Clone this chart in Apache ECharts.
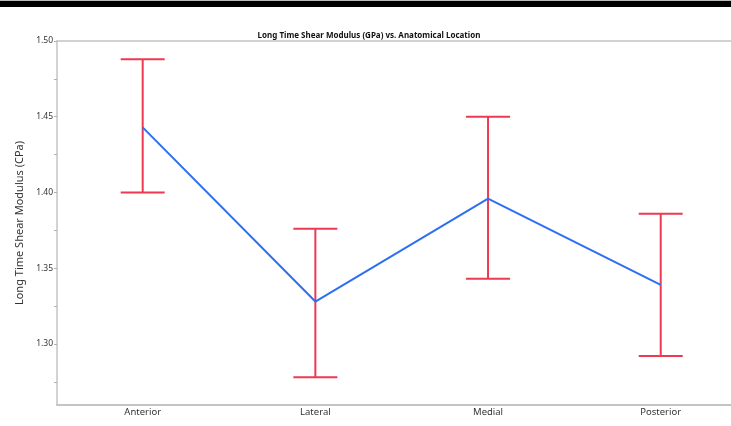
<!DOCTYPE html>
<html>
<head>
<meta charset="utf-8">
<script src="https://cdn.jsdelivr.net/npm/echarts@6/dist/echarts.min.js"></script>
<style>
  html, body { margin: 0; padding: 0; background: #fff; }
  #topbar { position: absolute; left: 0; top: 0; width: 731px; height: 7px; background: #000; border-top: 1px solid #bbb; box-sizing: border-box; }
  #chart { width: 731px; height: 426px; }
</style>
</head>
<body>
<div id="chart"></div>
<div id="topbar"></div>
<script>
// Anatomical locations along the x axis
const categories = ['Anterior', 'Lateral', 'Medial', 'Posterior'];
// Mean long time shear modulus per location
const meanValues = [1.443, 1.328, 1.396, 1.339];
// Upper and lower ends of the error bars
const upperValues = [1.488, 1.376, 1.450, 1.386];
const lowerValues = [1.400, 1.278, 1.343, 1.292];
// Labelled y ticks and the minor ticks between them
const yTickLabels = [1.30, 1.35, 1.40, 1.45, 1.50];
const yMinorTicks = [1.275, 1.325, 1.375, 1.425, 1.475];

const fontFamily = '"Noto Sans", "Open Sans", sans-serif';
const axisGray = '#c4c4c4';

const chart = echarts.init(document.getElementById('chart'), null, { renderer: 'canvas' });

// Locations sit at integer positions; the visible window runs past the last one
const categoryIndex = categories.map((c, i) => i);
const errorData = categories.map((c, i) => [i, lowerValues[i], upperValues[i]]);
const meanData = categories.map((c, i) => [i, meanValues[i]]);

chart.setOption({
  animation: false,
  backgroundColor: '#fff',
  title: {
    text: 'Long Time Shear Modulus (GPa) vs. Anatomical Location',
    left: 364,
    top: 27,
    textAlign: 'center',
    textStyle: { fontFamily, fontSize: 8, fontWeight: 'bold', color: '#111' }
  },
  grid: { left: 57, top: 41, bottom: 21, right: 0 },
  xAxis: [
    {
      type: 'value',
      min: -0.4963,
      max: 3.4071,
      axisLine: { show: true, onZero: false, lineStyle: { color: axisGray, width: 2 } },
      axisTick: { show: false },
      axisLabel: {
        fontFamily, fontSize: 9.5, color: '#333', margin: 2,
        customValues: categoryIndex,
        formatter: v => categories[Math.round(v)]
      },
      splitLine: { show: false }
    },
    {
      type: 'value',
      position: 'top',
      min: -0.4963,
      max: 3.4071,
      axisLine: { show: true, onZero: false, lineStyle: { color: axisGray, width: 1.5 } },
      axisTick: { show: false },
      axisLabel: { show: false },
      splitLine: { show: false }
    }
  ],
  yAxis: {
    type: 'value',
    min: 1.2597,
    max: 1.50,
    name: 'Long Time Shear Modulus (CPa)',
    nameLocation: 'middle',
    nameGap: 28,
    nameRotate: 90,
    nameTextStyle: { fontFamily, fontSize: 11, color: '#333' },
    axisLine: { show: true, onZero: false, lineStyle: { color: axisGray, width: 1.5 } },
    axisTick: {
      show: true, length: 3, inside: false,
      customValues: yTickLabels.concat(yMinorTicks),
      lineStyle: { color: '#b0b0b0', width: 1 }
    },
    axisLabel: {
      fontFamily, fontSize: 8.5, color: '#333', margin: 4,
      customValues: yTickLabels,
      formatter: v => v.toFixed(2)
    },
    splitLine: { show: false }
  },
  series: [
    {
      type: 'custom',
      name: 'range',
      data: errorData,
      z: 2,
      renderItem: function (params, api) {
        const idx = api.value(0);
        const lo = api.coord([idx, api.value(1)]);
        const hi = api.coord([idx, api.value(2)]);
        const half = 22;
        const style = { stroke: '#ec3a52', lineWidth: 2 };
        return {
          type: 'group',
          children: [
            { type: 'line', shape: { x1: hi[0], y1: hi[1], x2: lo[0], y2: lo[1] }, style },
            { type: 'line', shape: { x1: hi[0] - half, y1: hi[1], x2: hi[0] + half, y2: hi[1] }, style },
            { type: 'line', shape: { x1: lo[0] - half, y1: lo[1], x2: lo[0] + half, y2: lo[1] }, style }
          ]
        };
      }
    },
    {
      type: 'line',
      name: 'mean',
      data: meanData,
      z: 3,
      showSymbol: false,
      symbol: 'none',
      lineStyle: { color: '#2d6ff2', width: 2 }
    }
  ]
});
</script>
</body>
</html>
